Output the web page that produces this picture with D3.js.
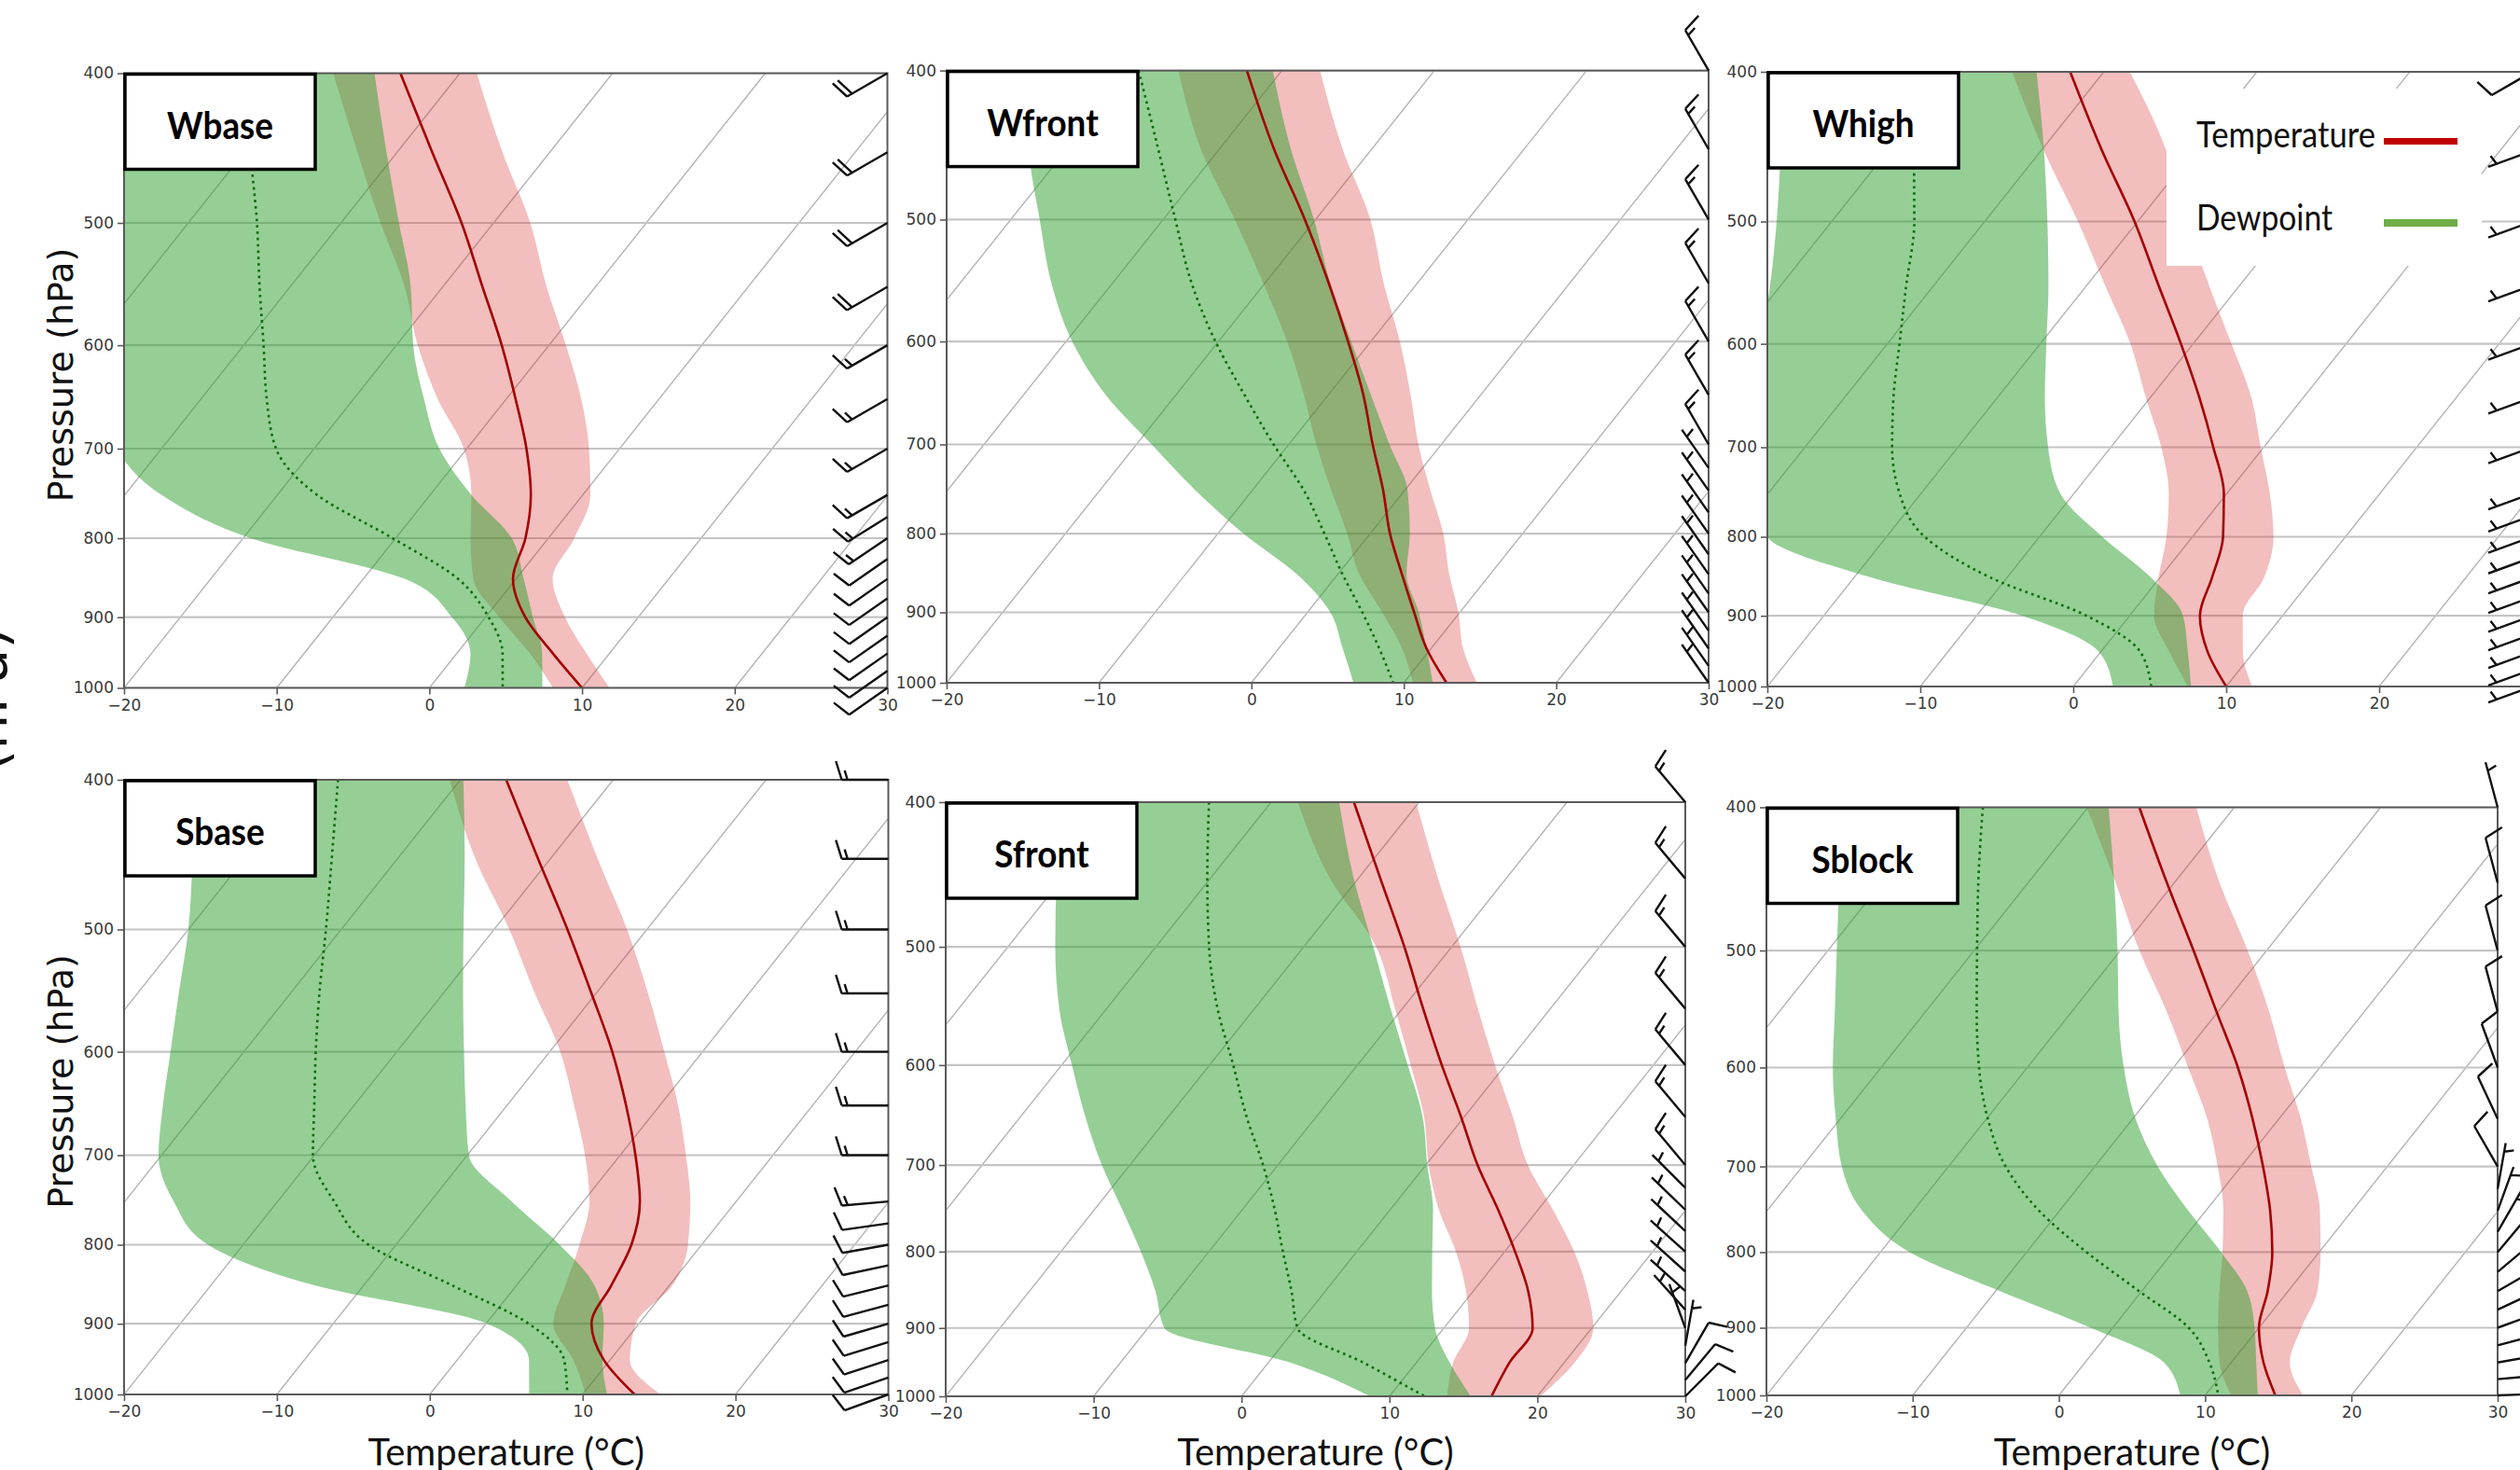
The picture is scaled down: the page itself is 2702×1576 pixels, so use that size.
<!DOCTYPE html>
<html><head><meta charset="utf-8">
<script src="https://cdn.jsdelivr.net/npm/d3@7"></script>
<style>body{margin:0;background:#fff}svg{display:block}</style>
</head><body>
<svg id="chart" width="2702" height="1576"></svg>
<script>
// ---------------- DATA ----------------
const pressureLevels = [400,450,500,550,600,650,700,750,800,850,900,950,1000];
const tempTicks = [-20,-10,0,10,20,30];
const pressureTicks = [400,500,600,700,800,900,1000];
const panelNames = ["Wbase","Wfront","Whigh","Sbase","Sfront","Sblock"];

// Wbase
const wbaseTemp     = [-33.9,-27.7,-22.1,-17.4,-13.1,-9.4,-6.1,-3.4,-1.5,-0.2,2.6,6.3,10.0];
const wbaseTempLow  = [-38.3,-32.6,-27.4,-22.5,-18.6,-14.5,-10.2,-7.3,-5.1,-2.8,0.9,4.8,8.1];
const wbaseTempHigh = [-28.9,-23.1,-17.6,-13.2,-8.9,-5.1,-2.0,0.5,1.7,2.4,5.2,8.5,11.8];
const wbaseDew      = [-43.9,-39.6,-35.5,-32.0,-28.7,-25.7,-22.5,-17.4,-10.2,-3.8,0.2,3.0,4.8];
const wbaseDewLow   = [-57,-52,-48,-44,-40,-37,-33,-27.6,-19.5,-7.3,-2.2,0.9,2.3];
const wbaseDewHigh  = [-35.6,-30.7,-26.2,-22.1,-18.9,-15.4,-11.8,-7.3,-2.4,0.5,3.1,5.6,7.4];
// Wfront
const wfrontTemp     = [-32.3,-26.4,-20.7,-15.8,-11.5,-7.7,-4.5,-1.4,1.3,4.2,7.0,9.7,12.8];
const wfrontTempLow  = [-36.8,-31.2,-25.3,-20.1,-15.5,-11.6,-8.2,-4.8,-1.5,1.4,4.9,8.1,10.6];
const wfrontTempHigh = [-27.5,-21.9,-16.4,-12.2,-8.1,-4.6,-1.5,1.7,4.8,7.3,9.9,12.1,14.8];
const wfrontDew      = [-39.4,-34.0,-29.2,-24.8,-20.2,-15.5,-11.0,-6.6,-3.0,0.3,3.6,6.6,9.3];
const wfrontDewLow   = [-46.8,-42.5,-38.1,-34.0,-29.6,-24.6,-19.0,-13.7,-8.3,-2.7,1.5,4.2,6.7];
const wfrontDewHigh  = [-30.6,-25.3,-20.1,-15.7,-11.3,-7.2,-3.4,0.2,2.6,4.5,7.3,9.7,11.9];
// Whigh
const whighTemp     = [-32.2,-26.0,-20.2,-15.3,-10.8,-6.8,-3.3,-0.2,2.0,3.4,4.6,7.0,10.0];
const whighTempLow  = [-36.0,-29.8,-23.9,-18.8,-14.1,-10.3,-6.7,-3.8,-1.7,-0.1,1.6,4.5,7.5];
const whighTempHigh = [-28.3,-21.8,-16.8,-12.0,-7.5,-3.4,-0.2,2.8,5.3,6.8,7.4,9.3,11.7];
const whighDew      = [-42.4,-38.3,-34.6,-31.8,-29.2,-26.8,-24.3,-21.4,-17.5,-11.1,-2.8,2.6,5.1];
const whighDewLow   = [-50.8,-47.0,-43.6,-40.7,-38.3,-36.0,-33.5,-31.0,-27.8,-18.9,-7.0,-0.1,2.6];
const whighDewHigh  = [-34.4,-29.8,-25.9,-22.5,-19.6,-16.9,-14.1,-10.9,-5.9,-0.6,3.5,5.7,7.7];
// Sbase
const sbaseTemp     = [-27.0,-20.8,-15.2,-10.3,-5.9,-2.2,1.0,3.7,5.4,6.2,6.9,9.6,13.4];
const sbaseTempLow  = [-30.7,-24.9,-19.0,-14.0,-9.3,-5.6,-2.3,0.4,2.0,3.2,4.4,7.6,10.2];
const sbaseTempHigh = [-23.0,-16.9,-11.3,-6.6,-2.5,1.2,4.3,7.0,9.1,10.2,9.8,11.3,15.1];
const sbaseDew      = [-38.0,-34.3,-31.0,-28.1,-25.3,-22.6,-20.1,-16.3,-11.8,-4.2,2.8,7.0,9.0];
const sbaseDewLow   = [-47.3,-43.4,-40.0,-37.3,-34.8,-32.5,-30.2,-26.8,-22.3,-13.2,0.1,4.7,6.5];
const sbaseDewHigh  = [-29.8,-25.6,-22.0,-18.7,-15.6,-12.7,-9.9,-4.7,0.7,5.1,7.7,9.5,11.6];
// Sfront
const sfrontTemp     = [-24.4,-18.5,-13.2,-8.6,-4.3,-0.2,3.5,7.3,10.7,13.7,16.0,16.3,16.9];
const sfrontTempLow  = [-28.2,-21.9,-15.1,-10.5,-6.4,-2.7,0.2,3.3,6.7,9.5,11.7,12.5,13.9];
const sfrontTempHigh = [-20.2,-14.6,-9.4,-4.9,-0.7,3.3,6.9,11.0,14.7,17.7,20.1,20.7,20.2];
const sfrontDew      = [-34.2,-30.2,-26.4,-22.5,-18.4,-14.7,-11.0,-7.8,-5.0,-2.3,0.1,6.5,12.4];
const sfrontDewLow   = [-44.3,-40.4,-36.8,-33.2,-29.3,-25.6,-21.9,-18.1,-14.6,-11.5,-8.9,1.6,8.7];
const sfrontDewHigh  = [-25.4,-20.3,-15.3,-10.8,-6.6,-2.8,0.1,2.9,5.1,7.2,9.4,12.3,15.5];
// Sblock
const sblockTemp     = [-26.5,-20.5,-15.0,-10.1,-5.6,-1.8,1.5,4.4,6.8,8.6,10.0,12.2,14.8];
const sblockTempLow  = [-30.1,-24.0,-18.7,-13.5,-9.0,-4.9,-1.6,1.2,3.4,5.3,7.2,9.2,11.8];
const sblockTempHigh = [-22.6,-16.9,-11.3,-6.5,-2.4,1.5,4.8,7.8,10.1,12.0,12.9,14.0,16.7];
const sblockDew      = [-37.2,-33.4,-29.8,-26.5,-23.3,-19.9,-16.1,-11.4,-5.9,-0.2,5.2,8.5,10.9];
const sblockDewLow   = [-46.8,-42.9,-39.4,-36.2,-33.3,-30.3,-27.3,-23.5,-18.0,-9.7,-1.5,5.4,8.3];
const sblockDewHigh  = [-28.6,-24.1,-20.2,-16.8,-13.4,-9.8,-5.7,-1.2,3.3,7.2,9.7,11.7,13.6];

// wind barbs (pressure hPa, direction deg from, speed kt)
const windLevelsA = [400,450,500,550,600,650,700,750,775,800,825,850,875,900,925,950,975,1000];
const windLevelsB = [400,450,500,550,600,650,700,725,750,775,800,825,850,875,900,925,950,975,1000];
const wbaseWindDir = [240,240,240,240,240,240,240,240,238,236,235,235,235,235,235,235,235,235];
const wbaseWindSpd = [20,20,20,20,15,15,15,15,15,15,10,10,10,10,10,10,10,10];
const wfrontWindDir = [330,330,330,330,330,330,330,325,325,325,325,325,325,325,325,325,325,325,325];
const wfrontWindSpd = [15,15,15,15,15,15,15,5,5,5,5,5,5,5,5,5,5,5,5];
const whighWindDir = [240,250,250,250,250,250,250,250,250,250,250,250,250,250,250,250,250,250];
const whighWindSpd = [10,5,5,5,5,5,5,5,5,5,5,5,5,5,5,5,5,5];
const sbaseWindDir = [270,270,270,270,270,270,270,265,262,260,258,256,255,254,253,252,251,250];
const sbaseWindSpd = [15,15,15,15,15,15,15,15,10,10,10,10,10,10,10,10,10,10];
const sfrontWindDir = [320,320,320,320,320,320,320,315,314,313,312,312,312,318,340,10,30,40,45];
const sfrontWindSpd = [15,15,15,15,15,15,15,5,5,5,5,5,5,5,5,5,10,10,10];
const sblockWindDir = [345,345,345,345,340,335,330,10,20,30,40,50,60,65,70,75,80,85,88];
const sblockWindSpd = [5,10,10,10,10,10,10,5,5,5,5,5,5,5,5,5,5,5,5];

const legendLabels = ["Temperature","Dewpoint"];

// ---------------- LAYOUT ----------------
const layout = {
  Wbase:  {x0:133,  x1:951.5, y0:78.5, y1:737.5, ylabel:true},
  Wfront: {x0:1015, x1:1832,  y0:75.6, y1:732},
  Whigh:  {x0:1895, x1:2715,  y0:77,   y1:736},
  Sbase:  {x0:133,  x1:952.5, y0:836,  y1:1495, ylabel:true, xlabel:true},
  Sfront: {x0:1014, x1:1807,  y0:860,  y1:1497, xlabel:true},
  Sblock: {x0:1894, x1:2678,  y0:865.5,y1:1496, xlabel:true}
};
const series = {
  Wbase:[wbaseTemp,wbaseTempLow,wbaseTempHigh,wbaseDew,wbaseDewLow,wbaseDewHigh,windLevelsA,wbaseWindDir,wbaseWindSpd],
  Wfront:[wfrontTemp,wfrontTempLow,wfrontTempHigh,wfrontDew,wfrontDewLow,wfrontDewHigh,windLevelsB,wfrontWindDir,wfrontWindSpd],
  Whigh:[whighTemp,whighTempLow,whighTempHigh,whighDew,whighDewLow,whighDewHigh,windLevelsA,whighWindDir,whighWindSpd],
  Sbase:[sbaseTemp,sbaseTempLow,sbaseTempHigh,sbaseDew,sbaseDewLow,sbaseDewHigh,windLevelsA,sbaseWindDir,sbaseWindSpd],
  Sfront:[sfrontTemp,sfrontTempLow,sfrontTempHigh,sfrontDew,sfrontDewLow,sfrontDewHigh,windLevelsB,sfrontWindDir,sfrontWindSpd],
  Sblock:[sblockTemp,sblockTempLow,sblockTempHigh,sblockDew,sblockDewLow,sblockDewHigh,windLevelsB,sblockWindDir,sblockWindSpd]
};

const SKEW = 32; // degC of horizontal shift across 1000->400 hPa
const frac = p => Math.log(1000/p)/Math.log(1000/400);

const svg = d3.select("#chart");
svg.append("rect").attr("width",2702).attr("height",1576).attr("fill","#fff");
const defs = svg.append("defs");

function barbPath(x0,y0,dir,spd,L,flip){
  const r = dir*Math.PI/180;
  const u = -Math.sin(r), v = -Math.cos(r);
  const th = Math.atan2(v,u) + Math.PI/2;
  const c = Math.cos(th), s = Math.sin(th);
  const T = (px,py) => [(x0 + px*c - py*s).toFixed(2), (y0 - (px*s + py*c)).toFixed(2)].join(",");
  const h = (flip?-1:1)*0.4*L, w = 0.25*L, sp = 0.125*L;
  let rem = Math.round(spd/5)*5;
  const nf = Math.floor(rem/50); rem -= nf*50;
  const nb = Math.floor(rem/10); rem -= nb*10;
  const half = rem >= 5;
  let d = `M${T(0,0)}L${T(0,L)}`;
  let off = L;
  for (let i=0;i<nf;i++){ d += `M${T(0,off)}L${T(h,off-w/2)}L${T(0,off-w)}Z`; off -= w+sp; }
  for (let i=0;i<nb;i++){ d += `M${T(0,off)}L${T(h,off+w/2)}`; off -= sp; }
  if (half){ if (off===L) off -= 1.5*sp; d += `M${T(0,off)}L${T(h/2,off+w/4)}`; }
  return d;
}

// partially visible figure-level label at the far left edge
svg.append("text").attr("transform","translate(7,672) rotate(-90)")
  .attr("text-anchor","end").attr("font-family","DejaVu Sans").attr("font-size",60)
  .attr("fill","#111").text("(hPa)");

panelNames.forEach((name,i) => {
  const pn = layout[name];
  const [tm,tl,th,dm,dl,dh,wl,wd,ws] = series[name];
  const x = d3.scaleLinear().domain([-20,30]).range([pn.x0,pn.x1]);
  const y = d3.scaleLog().domain([1000,400]).range([pn.y1,pn.y0]);
  const sx = (t,p) => x(t + SKEW*frac(p));
  const g = svg.append("g");
  defs.append("clipPath").attr("id","clip"+i).append("rect")
    .attr("x",pn.x0).attr("y",pn.y0).attr("width",pn.x1-pn.x0).attr("height",pn.y1-pn.y0);
  const pg = g.append("g").attr("clip-path",`url(#clip${i})`);

  // isotherms
  d3.range(-110,31,10).forEach(t => {
    pg.append("line").attr("x1",sx(t,1000)).attr("y1",y(1000)).attr("x2",sx(t,400)).attr("y2",y(400))
      .attr("stroke","#b4b4b4").attr("stroke-width",1.4);
  });
  // isobars
  pressureTicks.forEach(p => {
    pg.append("line").attr("x1",pn.x0).attr("x2",pn.x1).attr("y1",y(p)).attr("y2",y(p))
      .attr("stroke","#c4c4c4").attr("stroke-width",2.2);
  });

  const P = pressureLevels;
  const band = (lo,hi) => d3.area().curve(d3.curveMonotoneY)
    .y((_,k)=>y(P[k])).x0((_,k)=>sx(lo[k],P[k])).x1((_,k)=>sx(hi[k],P[k]));
  const line = arr => d3.line().curve(d3.curveMonotoneY).y((_,k)=>y(P[k])).x((_,k)=>sx(arr[k],P[k]));

  pg.append("path").datum(P).attr("d",band(tl,th)).attr("fill","rgb(214,39,40)").attr("fill-opacity",0.3);
  pg.append("path").datum(P).attr("d",band(dl,dh)).attr("fill","rgb(44,160,44)").attr("fill-opacity",0.5);
  pg.append("path").datum(P).attr("d",line(tm)).attr("fill","none").attr("stroke","#a30000").attr("stroke-width",2.6);
  pg.append("path").datum(P).attr("d",line(dm)).attr("fill","none").attr("stroke","#0b6a0b")
    .attr("stroke-width",2.6).attr("stroke-dasharray","2.6,4.2");

  // frame
  g.append("rect").attr("x",pn.x0).attr("y",pn.y0).attr("width",pn.x1-pn.x0).attr("height",pn.y1-pn.y0)
    .attr("fill","none").attr("stroke","#5a5a5a").attr("stroke-width",2);

  // axes
  const ay = g.append("g").attr("transform",`translate(${pn.x0},0)`)
    .call(d3.axisLeft(y).tickValues(pressureTicks).tickFormat(d3.format("d")).tickSize(7).tickPadding(4));
  const ax = g.append("g").attr("transform",`translate(0,${pn.y1})`)
    .call(d3.axisBottom(x).tickValues(tempTicks).tickSize(7).tickPadding(5));
  [ay,ax].forEach(a => {
    a.select(".domain").remove();
    a.selectAll("line").attr("stroke","#5a5a5a").attr("stroke-width",1.6);
    a.selectAll("text").attr("font-family","DejaVu Sans").attr("font-size",17).attr("fill","#3a3a3a");
  });

  // wind barbs
  wl.forEach((p,k) => {
    g.append("path").attr("d",barbPath(pn.x1,y(p),wd[k],ws[k],50,false))
      .attr("fill","none").attr("stroke","#111").attr("stroke-width",2.4).attr("stroke-linejoin","miter");
  });

  // label box
  g.append("rect").attr("x",pn.x0+1).attr("y",pn.y0+1).attr("width",204).attr("height",102)
    .attr("fill","#fff").attr("stroke","#000").attr("stroke-width",3.5);
  g.append("text").attr("transform",`translate(${pn.x0+103},${pn.y0+70}) scale(0.9,1)`)
    .attr("text-anchor","middle").attr("font-family","Lato").attr("font-weight","bold")
    .attr("font-size",41).attr("fill","#000").text(name);

  if (pn.ylabel){
    svg.append("text").attr("transform",`translate(78,${(pn.y0+pn.y1)/2 - 6}) rotate(-90)`)
      .attr("text-anchor","middle").attr("font-family","DejaVu Sans").attr("font-size",38)
      .attr("fill","#111").text("Pressure (hPa)");
  }
  if (pn.xlabel){
    svg.append("text").attr("x",(pn.x0+pn.x1)/2).attr("y",1571)
      .attr("text-anchor","middle").attr("font-family","Lato").attr("font-size",40)
      .attr("fill","#111").text("Temperature (°C)");
  }

  // legend in Whigh
  if (name === "Whigh"){
    const lg = svg.append("g");
    lg.append("rect").attr("x",2323).attr("y",95).attr("width",338).attr("height",190).attr("fill","#fff");
    lg.append("text").attr("x",2355).attr("y",158).attr("font-family","Lato").attr("font-size",38)
      .attr("textLength",192).attr("lengthAdjust","spacingAndGlyphs").attr("fill","#111").text(legendLabels[0]);
    lg.append("text").attr("x",2355).attr("y",247).attr("font-family","Lato").attr("font-size",38)
      .attr("textLength",146).attr("lengthAdjust","spacingAndGlyphs").attr("fill","#111").text(legendLabels[1]);
    lg.append("rect").attr("x",2556).attr("y",148).attr("width",79).attr("height",7).attr("fill","#c00000");
    lg.append("rect").attr("x",2556).attr("y",235).attr("width",79).attr("height",8).attr("fill","#70ad47");
  }
});
</script>
</body></html>
